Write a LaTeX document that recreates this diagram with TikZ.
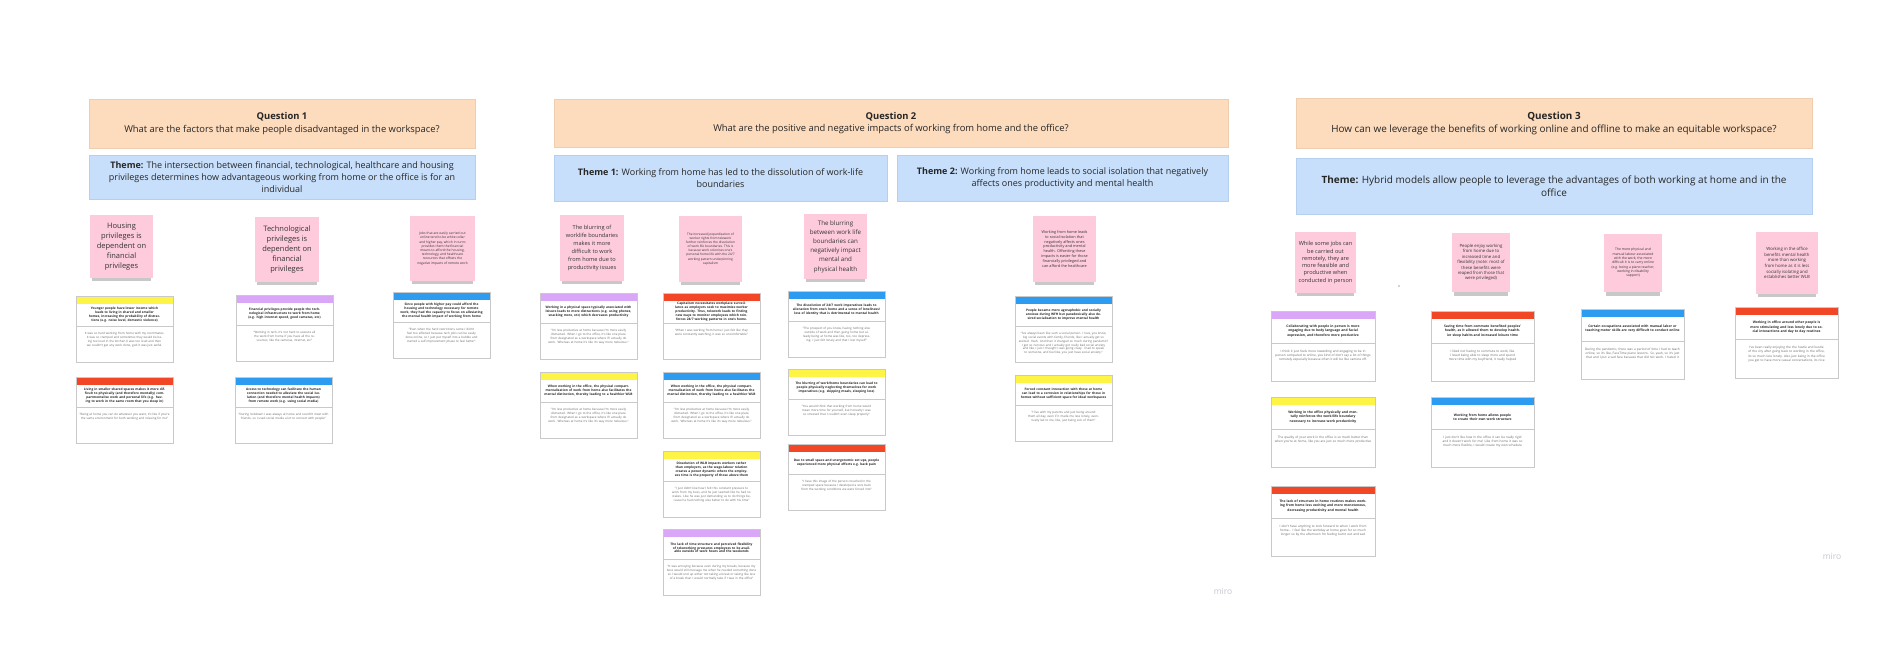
\documentclass[tikz,border=0pt]{standalone}
\usepackage{fontspec}
\setmainfont{Open Sans}
\usetikzlibrary{shadows}
\definecolor{hdrfill}{HTML}{FDDBBD}
\definecolor{hdrline}{HTML}{EFCEB0}
\definecolor{thmfill}{HTML}{C7DFFA}
\definecolor{thmline}{HTML}{B5CFEE}
\definecolor{stickypink}{HTML}{FECBDD}
\definecolor{barY}{HTML}{FEF445}
\definecolor{barP}{HTML}{DAA6F7}
\definecolor{barB}{HTML}{2D9BF0}
\definecolor{barR}{HTML}{F24726}
\definecolor{cardgrey}{HTML}{C9C9C9}
\definecolor{mirogrey}{HTML}{C6C6D0}
\newcommand\mycard[8]{%
  \pgfmathsetmacro\crdB{0.115*#5}%
  \pgfmathsetmacro\crdT{0.34*#5}%
  \pgfmathsetmacro\crdTW{#4-7}%
  \node[cardframe, minimum width=#4pt, minimum height=#5pt] (#1) at (#2,#3) {};
  \node[cardbar, fill=#6, minimum width=#4pt, minimum height=\crdB pt] (#1-bar) at (#2,#3) {};
  \coordinate (#1-divl) at (#2,#3+\crdB+\crdT);
  \coordinate (#1-divr) at (#2+#4,#3+\crdB+\crdT);
  \draw[cardrule] (#1-divl) -- (#1-divr);
  \node[cardtitle, text width=\crdTW pt] (#1-title) at (#2+#4/2,#3+\crdB+\crdT/2) {#7};
  \node[cardbody, text width=\crdTW pt] (#1-body) at (#2+#4/2,#3+\crdB+\crdT+0.1*#5) {#8};
  \draw[cardrule] (#1.north west) rectangle (#1.south east);
}
\begin{document}
\begin{tikzpicture}[x=1pt,y=-1pt,
  every node/.style={inner sep=0pt, outer sep=0pt},
  hdrbox/.style={fill=hdrfill, draw=hdrline, line width=0.6pt, anchor=north west, align=center, text=black!85, font=\fontsize{9.4}{12.5}\selectfont},
  thmbox/.style={fill=thmfill, draw=thmline, line width=0.6pt, anchor=north west, align=center, text=black!85, font=\fontsize{9}{12}\selectfont},
  sticky/.style={fill=stickypink, anchor=north west, align=center, text=black!80,
    drop shadow={shadow scale=0.93, shadow xshift=0pt, shadow yshift=-6pt, opacity=0.3, fill=black!70}},
  cardframe/.style={fill=white, anchor=north west},
  cardbar/.style={anchor=north west},
  cardrule/.style={draw=cardgrey, line width=0.7pt},
  cardtitle/.style={anchor=center, align=center, text=black!85, font=\fontsize{3.2}{3.9}\selectfont\bfseries},
  cardbody/.style={anchor=north, align=center, text=black!60, font=\fontsize{3}{3.7}\selectfont},
  miro/.style={text=mirogrey, font=\fontsize{8.5}{10}\selectfont}]
\fill[white] (0,0) rectangle (1886,655);
\useasboundingbox (0,0) rectangle (1886,655);

% ---------------- Question 1
\node[hdrbox, minimum width=386pt, minimum height=49pt] (q1) at (89,99)
  {\textbf{Question 1}\\What are the factors that make people disadvantaged in the workspace?};
\node[thmbox, minimum width=386pt, minimum height=44pt] (q1t) at (89,155)
  {\textbf{Theme:} The intersection between financial, technological, healthcare and housing\\privileges determines how advantageous working from home or the office is for an\\individual};

\node[sticky, minimum width=63pt, minimum height=63pt, font=\fontsize{7.5}{10}\selectfont] (q1s1) at (90,215)
  {Housing\\privileges is\\dependent on\\financial\\privileges};
\node[sticky, minimum width=64pt, minimum height=65pt, font=\fontsize{7.5}{10}\selectfont] (q1s2) at (255,217)
  {Technological\\privileges is\\dependent on\\financial\\privileges};
\node[sticky, minimum width=65pt, minimum height=65pt, font=\fontsize{3.3}{4.2}\selectfont] (q1s3) at (410,216)
  {Jobs that are easily carried out\\online tend to be white collar\\and higher pay, which in turns\\provides them the financial\\means to afford the housing,\\technology, and healthcare\\resources that offsets the\\negative impacts of remote work};

\mycard{a1}{76}{296}{97}{66}{barY}
  {Younger people have lower income which leads to living in shared and smaller homes, increasing the probability of distractions (e.g. noise level, domestic violence)}
  {It was so hard working from home with my roommates. It was so cramped and sometimes they would be being too loud in the kitchen (I was too loud and then we couldn't get any work done, god it was just awful.}
\mycard{a2}{236}{295}{97}{66}{barP}
  {Financial privileges provide people the technological infrastructure to work from home (e.g. high internet speed, good cameras, etc)}
  {"Working in tech, it's not hard to execute all the work from home if you have all the resources, like the cameras, internet, etc"}
\mycard{a3}{393}{292}{97}{66}{barB}
  {Since people with higher pay could afford the housing and technology necessary for remote work, they had the capacity to focus on alleviating the mental health impact of working from home}
  {"Even when the hard restrictions came I didn't feel too affected because tech jobs can be easily done online, so I just put myself into a bubble and started a self improvement phase to feel better"}
\mycard{a4}{76}{377}{97}{66}{barR}
  {Living in smaller shared spaces makes it more difficult to physically (and therefore mentally) compartmentalise work and personal life (e.g. having to work in the same room that you sleep in)}
  {"Being at home you can do whatever you want, it's like if you're the same environment for both working and relaxing for me"}
\mycard{a5}{235}{377}{97}{66}{barB}
  {Access to technology can facilitate the human connection needed to alleviate the social isolation (and therefore mental health impacts) from remote work (e.g. using social media)}
  {"During lockdown I was always at home and couldn't meet with friends, so I used social media a lot to connect with people"}

% ---------------- Question 2
\node[hdrbox, minimum width=674pt, minimum height=48pt] (q2) at (554,99)
  {\textbf{Question 2}\\What are the positive and negative impacts of working from home and the office?};
\node[thmbox, minimum width=333pt, minimum height=46pt] (q2t1) at (554,155)
  {\textbf{Theme 1:} Working from home has led to the dissolution of work-life\\boundaries};
\node[thmbox, minimum width=331pt, minimum height=46pt] (q2t2) at (897,155)
  {\textbf{Theme 2:} Working from home leads to social isolation that negatively\\affects ones productivity and mental health};

\node[sticky, minimum width=64pt, minimum height=66pt, font=\fontsize{5.6}{8}\selectfont] (q2s1) at (560,215)
  {The blurring of\\worklife boundaries\\makes it more\\difficult to work\\from home due to\\productivity issues};
\node[sticky, minimum width=63pt, minimum height=66pt, font=\fontsize{3.2}{4.1}\selectfont] (q2s2) at (679,216)
  {The increased jeopardisation of\\worker rights from telework\\further reinforces the dissolution\\of work life boundaries. This is\\because work colonises one's\\personal home life with the 24/7\\working pattern underpinning\\capitalism};
\node[sticky, minimum width=63pt, minimum height=65pt, font=\fontsize{6.2}{9.2}\selectfont] (q2s3) at (804,214)
  {The blurring\\between work life\\boundaries can\\negatively impact\\mental and\\physical health};
\node[sticky, minimum width=63pt, minimum height=66pt, font=\fontsize{3.8}{4.9}\selectfont] (q2s4) at (1033,216)
  {Working from home leads\\to social isolation that\\negatively affects ones\\productivity and mental\\health. Offsetting these\\impacts is easier for those\\financially privileged and\\can afford the healthcare};

\mycard{b1}{540}{293}{97}{66}{barP}
  {Working in a physical space typically associated with leisure leads to more distractions (e.g. using phones, snacking more, etc) which decreases productivity}
  {"I'm less productive at home because I'm more easily distracted. When I go to the office, it's like one place from designated as a workspace where I'll actually do work. Whereas at home it's like it's way more nebulous."}
\mycard{b2}{540}{372}{97}{66}{barY}
  {When working in the office, the physical compartmentalisation of work from home also facilitates the mental distinction, thereby leading to a healthier WLB}
  {"I'm less productive at home because I'm more easily distracted. When I go to the office, it's like one place from designated as a workspace where I'll actually do work. Whereas at home it's like it's way more nebulous."}
\mycard{c1}{663}{293}{97}{66}{barR}
  {Capitalism necessitates workplace surveillance as employers seek to maximise worker productivity. Thus, telework leads to finding new ways to monitor employees which reinforces 24/7 working patterns in one's home.}
  {"When I was working from home I just felt like they were constantly watching, it was so uncomfortable"}
\mycard{c2}{663}{372}{97}{66}{barB}
  {When working in the office, the physical compartmentalisation of work from home also facilitates the mental distinction, thereby leading to a healthier WLB}
  {"I'm less productive at home because I'm more easily distracted. When I go to the office, it's like one place from designated as a workspace where I'll actually do work. Whereas at home it's like it's way more nebulous."}
\mycard{c3}{663}{451}{97}{66}{barY}
  {Dissolution of WLB impacts workers rather than employers, as the wage-labour relation creates a power dynamic where the employees time is the property of those above them}
  {"I just didn't like how I felt this constant pressure to work from my boss, and he just seemed like he had no stakes. Like he was just demanding us to do things because he had nothing else better to do with his time"}
\mycard{c4}{663}{529}{97}{66}{barP}
  {The lack of time structure and perceived flexibility of teleworking pressures employees to be available outside of work hours and the weekends}
  {"It was annoying because even during my breaks, because my boss would still message me when he needed something done so I would end up either not taking a break or taking like less of a break than I would normally take if I was in the office"}
\mycard{d1}{788}{291}{97}{66}{barB}
  {The dissolution of 24/7 work imperatives leads to alienation from one's home and a sense of loneliness/ loss of identity that is detrimental to mental health}
  {"The prospect of you know, having nothing else outside of work and then going home but already being at home was like, too, too depressing. I just felt lonely and that I lost myself"}
\mycard{d2}{788}{369}{97}{66}{barY}
  {The blurring of work/home boundaries can lead to people physically neglecting themselves for work imperatives (e.g. skipping meals, sleeping less)}
  {"You would think that working from home would mean more time for yourself, but honestly I was so stressed that I couldn't even sleep properly"}
\mycard{d3}{788}{444}{97}{66}{barR}
  {Due to small space and unergonomic set ups, people experienced more physical effects e.g. back pain}
  {"I have this image of the person crouched in the cramped space because I developed a sore back from the working conditions we were forced into"}
\mycard{e1}{1015}{296}{97}{66}{barB}
  {People became more agoraphobic and socially anxious during WFH but paradoxically also desired socialisation to improve mental health}
  {"I've always been like such a social person. I love, you know, big social events with family, friends, like I actually get so excited. Yeah. And then it changed so much during pandemic? I got so nervous and I actually got really bad social anxiety and like, I just I thought I was going crazy. I had to speak to someone, and feel like, you just have social anxiety."}
\mycard{e2}{1015}{375}{97}{66}{barY}
  {Forced constant interaction with those at home can lead to a corrosion in relationships for those in homes without sufficient space for ideal workspaces}
  {"I live with my parents and just being around them all day, even if it made me less lonely, eventually led to me, like, just being sick of them"}

% ---------------- Question 3
\node[hdrbox, minimum width=516pt, minimum height=50pt, font=\fontsize{9.9}{13}\selectfont] (q3) at (1296,98)
  {\textbf{Question 3}\\How can we leverage the benefits of working online and offline to make an equitable workspace?};
\node[thmbox, minimum width=516pt, minimum height=56pt, font=\fontsize{10}{13.5}\selectfont] (q3t) at (1296,158)
  {\textbf{Theme:} Hybrid models allow people to leverage the advantages of both working at home and in the\\office};

\node[sticky, minimum width=61pt, minimum height=61pt, font=\fontsize{5.6}{7.3}\selectfont] (q3s1) at (1295,232)
  {While some jobs can\\be carried out\\remotely, they are\\more feasible and\\productive when\\conducted in person};
\node[sticky, minimum width=58pt, minimum height=59pt, font=\fontsize{4.3}{5.4}\selectfont] (q3s2) at (1452,233)
  {People enjoy working\\from home due to\\increased time and\\flexibility (note: most of\\these benefits were\\reaped from those that\\were privileged)};
\node[sticky, minimum width=58pt, minimum height=58pt, font=\fontsize{3.4}{4.3}\selectfont] (q3s3) at (1604,234)
  {The more physical and\\manual labour associated\\with the work, the more\\difficult it is to carry online\\(e.g. being a piano teacher,\\working in disability\\support)};
\node[sticky, minimum width=62pt, minimum height=62pt, font=\fontsize{4.3}{5.6}\selectfont] (q3s4) at (1756,232)
  {Working in the office\\benefits mental health\\more than working\\from home as it is less\\socially isolating and\\establishes better WLB};
\fill[black!35] (1399,286) circle (0.8);

\begin{scope}[cardtitle/.append style={font=\fontsize{3.3}{4.3}\selectfont\bfseries},
              cardbody/.append style={font=\fontsize{3.15}{4.1}\selectfont}]
\mycard{f1}{1271}{311}{104}{70}{barP}
  {Collaborating with people in person is more engaging due to body language and facial expression, and therefore more productive}
  {I think it just feels more rewarding and engaging to be in person compared to online, you kind of don't say a lot of things remotely especially because often it will be like camera off.}
\mycard{f2}{1271}{397}{104}{70}{barY}
  {Working in the office physically and mentally reinforces the work/life boundary necessary to increase work productivity}
  {The quality of your work in the office is so much better than when you're at home, like you are just so much more productive}
\mycard{f3}{1271}{486}{104}{70}{barR}
  {The lack of structure in home routines makes working from home less exciting and more monotonous, decreasing productivity and mental health}
  {I don't have anything to look forward to when I work from home... I feel like the workday at home goes for so much longer so by the afternoon I'm feeling burnt out and sad}
\mycard{g1}{1431}{311}{103}{70}{barR}
  {Saving time from commute benefited peoples' health, as it allowed them to develop healthier sleep habits and increased leisure time}
  {I liked not having to commute to work, like I loved being able to sleep more and spend more time with my boyfriend, it really helped}
\mycard{g2}{1431}{397}{103}{70}{barB}
  {Working from home allows people to create their own work structure}
  {I just don't like how in the office it can be really rigid and it doesn't work for me! Like from home it was so much more flexible, I would create my own schedule}
\mycard{h1}{1581}{309}{103}{70}{barB}
  {Certain occupations associated with manual labor or teaching motor skills are very difficult to conduct online}
  {During the pandemic, there was a period of time I had to teach online, so it's like, FaceTime piano lessons. So, yeah, so it's just that and I put a sad face because that did not work. I hated it}
\mycard{i1}{1735}{307}{103}{71}{barR}
  {Working in office around other people is more stimulating and less lonely due to social interactions and day to day routines}
  {I've been really enjoying the the hustle and bustle of the city after going back to working in the office, its so much less lonely. Also just being in the office you get to have more casual conversations, its nice}
\end{scope}

\node[miro] (miro1) at (1223,591) {miro};
\node[miro] (miro2) at (1832,556) {miro};
\end{tikzpicture}
\end{document}
